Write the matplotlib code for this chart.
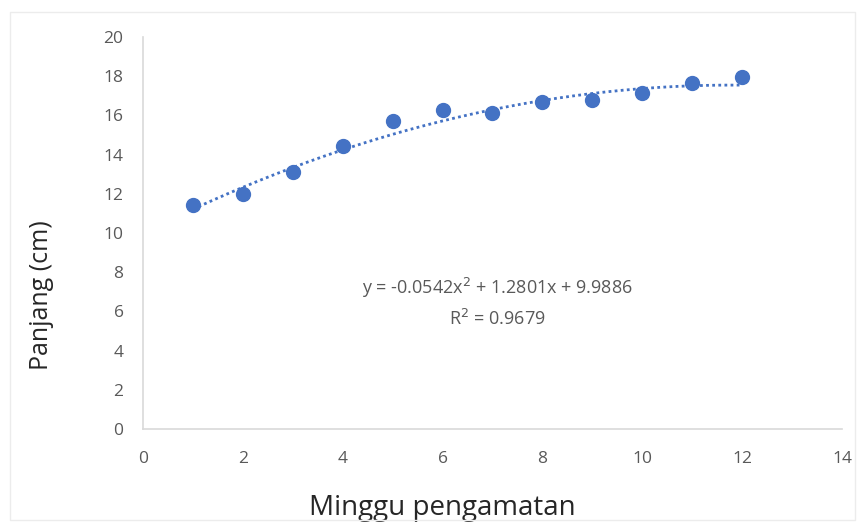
import matplotlib.pyplot as plt
import numpy as np
from matplotlib.patches import Rectangle

# data
minggu = [1, 2, 3, 4, 5, 6, 7, 8, 9, 10, 11, 12]
panjang = [11.45, 12.0, 13.1, 14.45, 15.7, 16.3, 16.1, 16.7, 16.8, 17.15, 17.65, 17.95]

# trendline coefficients as printed on the chart
coef = [-0.0542, 1.2801, 9.9886]
r2 = 0.9679

blue = '#4472C4'
grey = '#595959'

plt.rcParams['font.family'] = ['Open Sans', 'DejaVu Sans']

f = plt.figure(figsize=(8.64, 5.26), dpi=100)
ax = f.add_axes([143/864, 1-429/526, (842-143)/864, (429-37)/526])

# faint chart border
f.patches.append(Rectangle((10/864, 6/526), 845/864, 508/526, transform=f.transFigure,
                           fill=False, edgecolor='#ececec', linewidth=1))

xt = np.linspace(minggu[0], minggu[-1], 200)
ax.plot(xt, np.polyval(coef, xt), linestyle=(0, (1, 1.2)), color=blue, linewidth=2)
ax.scatter(minggu, panjang, s=100, color=blue, zorder=3)

ax.set_xlim(0, 14)
ax.set_ylim(0, 20)
ax.set_xticks(range(0, 15, 2))
ax.set_yticks(range(0, 21, 2))

for s in ['top', 'right']:
    ax.spines[s].set_visible(False)
for s in ['left', 'bottom']:
    ax.spines[s].set_color('#d9d9d9')
    ax.spines[s].set_linewidth(1.2)
ax.tick_params(length=0, labelsize=12.5, colors=grey)
ax.tick_params(axis='x', pad=16)
ax.tick_params(axis='y', pad=14)

ax.set_xlabel('Minggu pengamatan', fontsize=20, color='#262626', va='center')
ax.xaxis.set_label_coords(0.428, -0.2015)
ax.set_ylabel('Panjang (cm)', fontsize=18, color='#262626', va='center')
ax.yaxis.set_label_coords(-0.1445, 0.342)

eq = 'y = %.4fx$^2$ + %.4fx + %.4f\nR$^2$ = %.4f' % (coef[0], coef[1], coef[2], r2)
ax.text(7.09, 6.48, eq, ha='center', va='center', fontsize=13, color=grey, linespacing=1.55)

f.savefig('out.png', dpi=100)
